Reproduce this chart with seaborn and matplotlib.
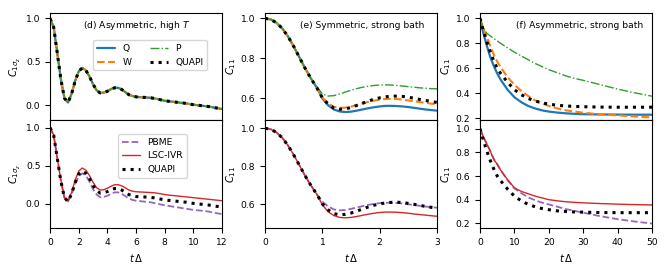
import numpy as np
import matplotlib
matplotlib.use("Agg")
import matplotlib.pyplot as plt
import seaborn as sns

# ---- panel (d): asymmetric, high T ----
t_d = np.arange(0, 12.01, 0.25)
quapi_d = [1.0, 0.90, 0.60, 0.30, 0.08, 0.03, 0.13, 0.28, 0.39, 0.43, 0.40, 0.33, 0.24,
           0.17, 0.14, 0.145, 0.16, 0.185, 0.20, 0.20, 0.18, 0.15, 0.12, 0.105, 0.095,
           0.092, 0.09, 0.088, 0.085, 0.078, 0.07, 0.06, 0.05, 0.045, 0.04, 0.035, 0.03,
           0.025, 0.02, 0.012, 0.005, 0.0, -0.005, -0.01, -0.015, -0.022, -0.03, -0.037, -0.045]
lsc_d = [1.0, 0.90, 0.60, 0.31, 0.08, 0.04, 0.15, 0.31, 0.43, 0.47, 0.44, 0.37, 0.28,
         0.21, 0.18, 0.185, 0.205, 0.23, 0.25, 0.25, 0.235, 0.21, 0.18, 0.165, 0.158,
         0.155, 0.153, 0.15, 0.148, 0.145, 0.138, 0.13, 0.12, 0.115, 0.11, 0.105, 0.10,
         0.095, 0.09, 0.085, 0.08, 0.075, 0.07, 0.065, 0.06, 0.055, 0.05, 0.045, 0.04]
pbme_d = [1.0, 0.90, 0.60, 0.30, 0.08, 0.03, 0.12, 0.26, 0.36, 0.40, 0.37, 0.29, 0.19,
          0.12, 0.085, 0.09, 0.105, 0.13, 0.15, 0.15, 0.13, 0.10, 0.07, 0.05, 0.04,
          0.035, 0.03, 0.025, 0.02, 0.01, 0.0, -0.01, -0.02, -0.028, -0.035, -0.043, -0.05,
          -0.058, -0.065, -0.073, -0.08, -0.085, -0.09, -0.095, -0.10, -0.11, -0.12, -0.128, -0.135]

# ---- panel (e): symmetric, strong bath ----
t_e = np.arange(0, 3.01, 0.1)
early_e = [1.0, 0.995, 0.978, 0.95, 0.91, 0.86, 0.805, 0.75, 0.70, 0.655]
q_e = early_e + [0.60, 0.566, 0.545, 0.535, 0.532, 0.534, 0.539, 0.545, 0.551, 0.556, 0.56,
                 0.563, 0.563, 0.562, 0.56, 0.557, 0.553, 0.549, 0.545, 0.542, 0.539]
w_e = early_e + [0.605, 0.575, 0.558, 0.553, 0.554, 0.559, 0.567, 0.575, 0.583, 0.589, 0.594,
                 0.597, 0.598, 0.597, 0.594, 0.59, 0.586, 0.582, 0.578, 0.574, 0.57]
p_e = early_e[:9] + [0.66, 0.622, 0.612, 0.614, 0.622, 0.632, 0.641, 0.649, 0.656, 0.661, 0.665,
                     0.667, 0.668, 0.667, 0.665, 0.662, 0.659, 0.656, 0.653, 0.651, 0.649, 0.648]
quapi_e = early_e + [0.603, 0.572, 0.552, 0.546, 0.548, 0.555, 0.565, 0.576, 0.587, 0.596, 0.603,
                     0.608, 0.611, 0.612, 0.61, 0.606, 0.601, 0.595, 0.59, 0.585, 0.58]
pbme_e = early_e + [0.615, 0.59, 0.574, 0.569, 0.571, 0.577, 0.584, 0.591, 0.598, 0.603, 0.607,
                    0.609, 0.609, 0.608, 0.605, 0.601, 0.597, 0.593, 0.589, 0.586, 0.583]
lsc_e = early_e + [0.598, 0.562, 0.542, 0.532, 0.53, 0.532, 0.537, 0.543, 0.549, 0.554, 0.558,
                   0.56, 0.56, 0.559, 0.557, 0.554, 0.55, 0.547, 0.544, 0.541, 0.538]

# ---- panel (f): asymmetric, strong bath ----
t_f = [0, 1, 2, 3, 4, 5, 6, 8, 10, 12, 14, 16, 18, 20, 22.5, 25, 27.5, 30, 35, 40, 45, 50]
q_f = [1.0, 0.88, 0.78, 0.69, 0.62, 0.56, 0.51, 0.43, 0.37, 0.33, 0.30, 0.28, 0.265, 0.255,
       0.247, 0.241, 0.237, 0.234, 0.232, 0.231, 0.23, 0.23]
w_f = [1.0, 0.92, 0.85, 0.78, 0.71, 0.655, 0.61, 0.53, 0.47, 0.42, 0.38, 0.345, 0.32, 0.30,
       0.28, 0.265, 0.255, 0.246, 0.233, 0.225, 0.216, 0.208]
p_f = [1.0, 0.92, 0.88, 0.86, 0.84, 0.82, 0.80, 0.765, 0.73, 0.70, 0.67, 0.64, 0.615, 0.59,
       0.565, 0.54, 0.52, 0.505, 0.47, 0.435, 0.405, 0.378]
quapi_f = [1.0, 0.90, 0.81, 0.73, 0.66, 0.60, 0.56, 0.49, 0.43, 0.39, 0.36, 0.34, 0.325, 0.315,
           0.305, 0.30, 0.296, 0.294, 0.291, 0.29, 0.29, 0.29]
lsc_f = [1.0, 0.93, 0.87, 0.81, 0.74, 0.70, 0.65, 0.57, 0.50, 0.47, 0.45, 0.43, 0.415, 0.40,
         0.39, 0.382, 0.377, 0.373, 0.367, 0.362, 0.358, 0.355]
pbme_f = [1.0, 0.93, 0.87, 0.81, 0.745, 0.70, 0.65, 0.565, 0.495, 0.455, 0.42, 0.395, 0.375, 0.36,
          0.34, 0.32, 0.305, 0.29, 0.26, 0.235, 0.215, 0.198]

sns.set_style("ticks", rc={"axes.edgecolor": "black", "text.color": "black",
                           "axes.labelcolor": "black", "xtick.color": "black",
                           "ytick.color": "black"})
plt.rcParams["font.family"] = ["DejaVu Sans"]
plt.rcParams["font.size"] = 6.6

styles = {
    "Q": dict(color="tab:blue", linestyle="-", lw=1.6),
    "W": dict(color="tab:orange", linestyle="--", lw=1.5),
    "P": dict(color="tab:green", linestyle="-.", lw=1.0),
    "QUAPI": dict(color="black", linestyle=":", lw=2.2),
    "PBME": dict(color="tab:purple", linestyle="--", lw=1.3),
    "LSC-IVR": dict(color="tab:red", linestyle="-", lw=1.0),
}


def draw(ax, t, series):
    for name, vals in series:
        sns.lineplot(x=t, y=vals, ax=ax, label=name, **styles[name])
    if ax.get_legend() is not None:
        ax.get_legend().remove()


fig, axes = plt.subplots(2, 3, figsize=(6.68, 2.71), dpi=100, sharex="col")
fig.subplots_adjust(left=0.075, right=0.976, top=0.952, bottom=0.159, wspace=0.25, hspace=0)

top_series = [
    (t_d, [("Q", quapi_d), ("W", quapi_d), ("P", quapi_d), ("QUAPI", quapi_d)]),
    (t_e, [("Q", q_e), ("W", w_e), ("P", p_e), ("QUAPI", quapi_e)]),
    (t_f, [("Q", q_f), ("W", w_f), ("P", p_f), ("QUAPI", quapi_f)]),
]
bottom_series = [
    (t_d, [("PBME", pbme_d), ("LSC-IVR", lsc_d), ("QUAPI", quapi_d)]),
    (t_e, [("PBME", pbme_e), ("LSC-IVR", lsc_e), ("QUAPI", quapi_e)]),
    (t_f, [("PBME", pbme_f), ("LSC-IVR", lsc_f), ("QUAPI", quapi_f)]),
]
for j in range(3):
    draw(axes[0, j], *top_series[j])
    draw(axes[1, j], *bottom_series[j])

titles = ["(d) Asymmetric, high $T$", "(e) Symmetric, strong bath", "(f) Asymmetric, strong bath"]
title_x = [0.19, 0.205, 0.208]
for j in range(3):
    axes[0, j].text(title_x[j], 0.885, titles[j], transform=axes[0, j].transAxes,
                    ha="left", va="center", fontsize=6.6)

# axis limits and ticks
xlims = [(0, 12), (0, 3), (0, 50)]
xticks = [np.arange(0, 13, 2), np.arange(0, 4, 1), np.arange(0, 51, 10)]
ylims = [[(-0.177, 1.063), (-0.317, 1.094)],
         [(0.49, 1.027), (0.477, 1.041)],
         [(0.184, 1.043), (0.161, 1.07)]]
yticks = [[0.0, 0.5, 1.0], [0.6, 0.8, 1.0], [0.2, 0.4, 0.6, 0.8, 1.0]]
ylabels = [r"$C_{1\sigma_z}$", r"$C_{11}$", r"$C_{11}$"]
for j in range(3):
    for i in range(2):
        ax = axes[i, j]
        ax.set_xlim(*xlims[j])
        ax.set_xticks(xticks[j])
        ax.set_ylim(*ylims[j][i])
        ax.set_yticks(yticks[j])
        ax.set_ylabel(ylabels[j], fontsize=7.2, labelpad=2)
        ax.tick_params(labelsize=6.6, length=3.5)
    axes[1, j].set_xlabel(r"$t\,\Delta$", fontsize=7.2)

axes[0, 0].legend(ncol=2, loc="upper left", bbox_to_anchor=(0.223, 0.787), fontsize=6.6,
                  handlelength=2.0, columnspacing=2.0)
axes[1, 0].legend(loc="upper left", bbox_to_anchor=(0.369, 0.915), fontsize=6.6, handlelength=2.0)

fig.savefig("out.png", dpi=100)
